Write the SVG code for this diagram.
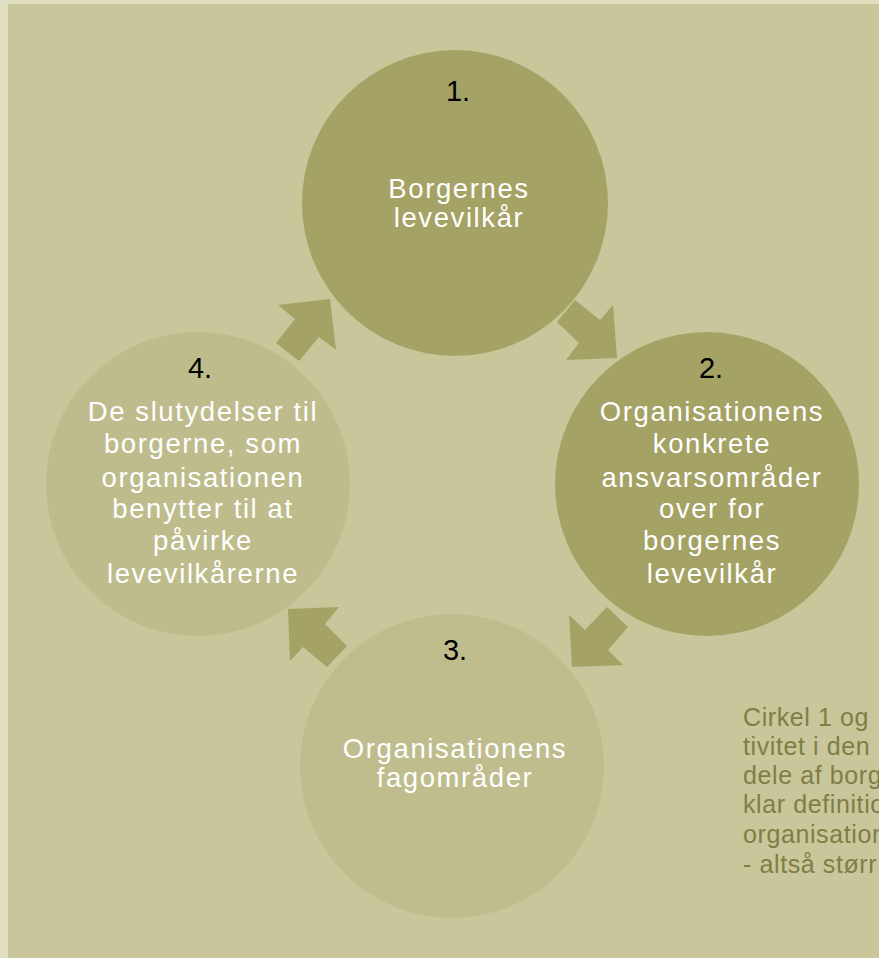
<svg xmlns="http://www.w3.org/2000/svg" width="879" height="958" viewBox="0 0 879 958">
<style>
.dark{fill:#A4A265}
.light3{fill:#BFBD8D}
.light4{fill:#BEBC8C}
.arrow{fill:#A4A265}
text{font-family:"Liberation Sans",Arial,sans-serif;font-size:27.5px;text-anchor:middle}
.lbl{fill:#FFFFFF;letter-spacing:1.6px}
.num{fill:#000000;font-size:29px}
.side{fill:#7F7E46;font-size:25px;text-anchor:start;letter-spacing:0.6px}
</style>
<rect x="0" y="0" width="879" height="958" fill="#DFDEBF"/>
<rect x="8" y="4" width="871" height="954" fill="#C8C69A"/>
<g id="connectors">
<polygon class="arrow" points="575,300 557,322 579,343 566,360 617,358 613,305 600,320"/>
<polygon class="arrow" points="607,607 628,627 608,650 623,665 572,667 569,615 585,630"/>
<polygon class="arrow" points="288,609 339,607 325,624 347,646 327,667 303,647 290,661"/>
<polygon class="arrow" points="278,305 330,299 336,350 319,337 299,361 276,343 295,319"/>
</g>
<g id="node1">
<circle class="dark" cx="455" cy="203" r="153"/>
<text class="num" x="458" y="101">1.</text>
<text class="lbl" x="459" y="198">Borgernes</text>
<text class="lbl" x="459" y="227">levevilkår</text>
</g>
<g id="node2">
<circle class="dark" cx="707" cy="484" r="152"/>
<text class="num" x="711" y="378">2.</text>
<text class="lbl" x="712" y="421">Organisationens</text>
<text class="lbl" x="712" y="453">konkrete</text>
<text class="lbl" x="712" y="487">ansvarsområder</text>
<text class="lbl" x="712" y="518">over for</text>
<text class="lbl" x="712" y="550">borgernes</text>
<text class="lbl" x="712" y="583">levevilkår</text>
</g>
<g id="node3">
<circle class="light3" cx="452" cy="766" r="152"/>
<text class="num" x="455" y="660">3.</text>
<text class="lbl" x="455" y="758">Organisationens</text>
<text class="lbl" x="455" y="787">fagområder</text>
</g>
<g id="node4">
<circle class="light4" cx="198" cy="484" r="152"/>
<text class="num" x="200" y="378">4.</text>
<text class="lbl" x="203" y="421">De slutydelser til</text>
<text class="lbl" x="203" y="453">borgerne, som</text>
<text class="lbl" x="203" y="487">organisationen</text>
<text class="lbl" x="203" y="518">benytter til at</text>
<text class="lbl" x="203" y="550">påvirke</text>
<text class="lbl" x="203" y="583">levevilkårerne</text>
</g>
<g id="sidenote">
<text class="side" x="743" y="726">Cirkel 1 og</text>
<text class="side" x="743" y="755">tivitet i den</text>
<text class="side" x="743" y="784">dele af borg</text>
<text class="side" x="743" y="813">klar definitio</text>
<text class="side" x="743" y="843">organisation</text>
<text class="side" x="743" y="873">- altså størr</text>
</g>
</svg>
